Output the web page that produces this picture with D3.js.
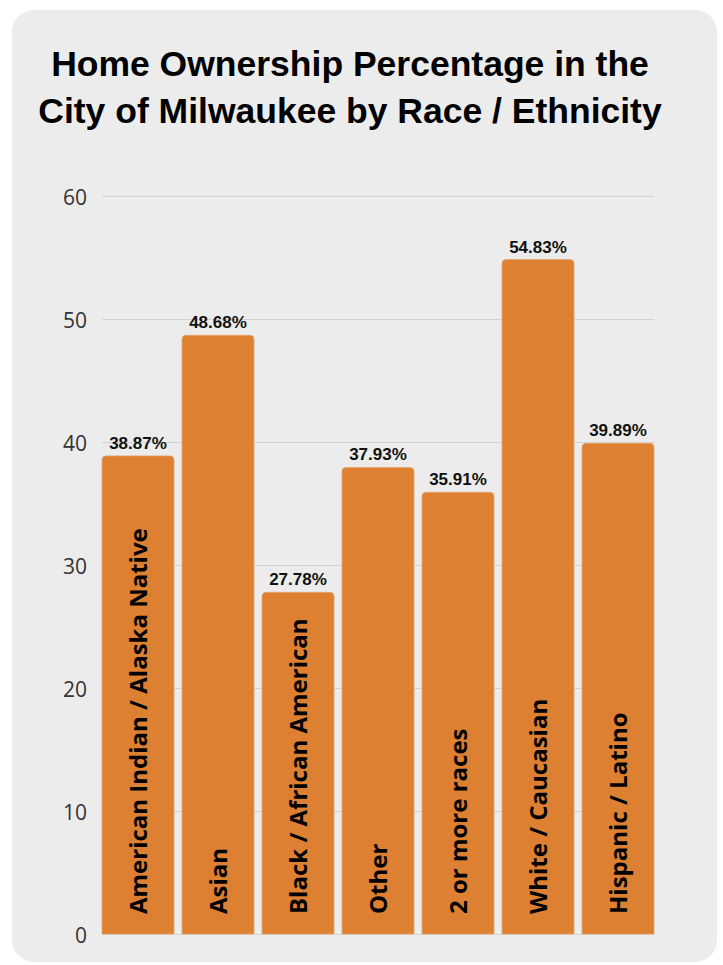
<!DOCTYPE html>
<html>
<head>
<meta charset="utf-8">
<script src="https://cdn.jsdelivr.net/npm/d3@7"></script>
<style>
  html, body { margin: 0; padding: 0; background: #ffffff; }
  svg { display: block; }
</style>
</head>
<body>
<div id="chart"></div>
<script>
// Home ownership rate (%) by race / ethnicity, City of Milwaukee
const categories = [
  "American Indian / Alaska Native",
  "Asian",
  "Black / African American",
  "Other",
  "2 or more races",
  "White / Caucasian",
  "Hispanic / Latino"
];
const values = [38.87, 48.68, 27.78, 37.93, 35.91, 54.83, 39.89];
const yTicks = [0, 10, 20, 30, 40, 50, 60];
const titleLines = [
  "Home Ownership Percentage in the",
  "City of Milwaukee by Race / Ethnicity"
];

const W = 723, H = 965;
const plot = { left: 102, right: 654, top: 196, bottom: 934 };

const svg = d3.select("#chart").append("svg")
  .attr("width", W).attr("height", H);

// card background
svg.append("rect")
  .attr("x", 12).attr("y", 10)
  .attr("width", 705).attr("height", 952)
  .attr("rx", 22).attr("ry", 22)
  .attr("fill", "#ececec");

// title
svg.append("text")
  .attr("text-anchor", "middle")
  .attr("font-family", "'Liberation Sans', Arial, sans-serif")
  .attr("font-weight", 700)
  .attr("font-size", 35.5)
  .attr("fill", "#000")
  .selectAll("tspan").data(titleLines).join("tspan")
  .attr("x", 350)
  .attr("y", (d, i) => 76 + i * 47)
  .text(d => d);

const x = d3.scaleBand()
  .domain(categories)
  .range([plot.left, plot.right])
  .paddingInner(0.1)
  .paddingOuter(0);

const y = d3.scaleLinear()
  .domain([0, 60])
  .range([plot.bottom, plot.top]);

// gridlines and y tick labels
const yAxis = d3.axisLeft(y)
  .tickValues(yTicks)
  .tickSize(-(plot.right - plot.left))
  .tickPadding(15)
  .tickFormat(d3.format("d"));

const ga = svg.append("g")
  .attr("transform", `translate(${plot.left},0)`)
  .call(yAxis);
ga.select(".domain").remove();
ga.selectAll(".tick line")
  .attr("stroke", "#d2d2d2")
  .attr("stroke-width", 1);
ga.selectAll(".tick text")
  .attr("font-family", "'Open Sans', sans-serif")
  .attr("font-weight", 400)
  .attr("font-size", 21)
  .attr("fill", "#333")
  .attr("dy", "0.42em");

// bars with rounded top corners
const r = 4;
function barPath(d, i) {
  const x0 = x(categories[i]);
  const w = x.bandwidth();
  const yt = y(d);
  const yb = y(0);
  return `M${x0},${yb}V${yt + r}Q${x0},${yt} ${x0 + r},${yt}` +
         `H${x0 + w - r}Q${x0 + w},${yt} ${x0 + w},${yt + r}V${yb}Z`;
}

svg.append("g").selectAll("path").data(values).join("path")
  .attr("d", barPath)
  .attr("fill", "#dd8032")
  .attr("stroke", "#e6a26a")
  .attr("stroke-width", 0.8);

// value labels
svg.append("g").selectAll("text").data(values).join("text")
  .attr("x", (d, i) => x(categories[i]) + x.bandwidth() / 2)
  .attr("y", d => y(d) - 7)
  .attr("text-anchor", "middle")
  .attr("font-family", "'Liberation Sans', Arial, sans-serif")
  .attr("font-weight", 700)
  .attr("font-size", 17)
  .attr("fill", "#111")
  .text(d => d.toFixed(2) + "%");

// category labels inside bars
svg.append("g").selectAll("text").data(categories).join("text")
  .attr("transform", d => `translate(${x(d) + x.bandwidth() / 2},914) rotate(-90)`)
  .attr("text-anchor", "start")
  .attr("dy", "0.36em")
  .attr("font-family", "'Open Sans', sans-serif")
  .attr("font-weight", 700)
  .attr("font-size", 24)
  .attr("fill", "#000")
  .text(d => d);
</script>
</body>
</html>
